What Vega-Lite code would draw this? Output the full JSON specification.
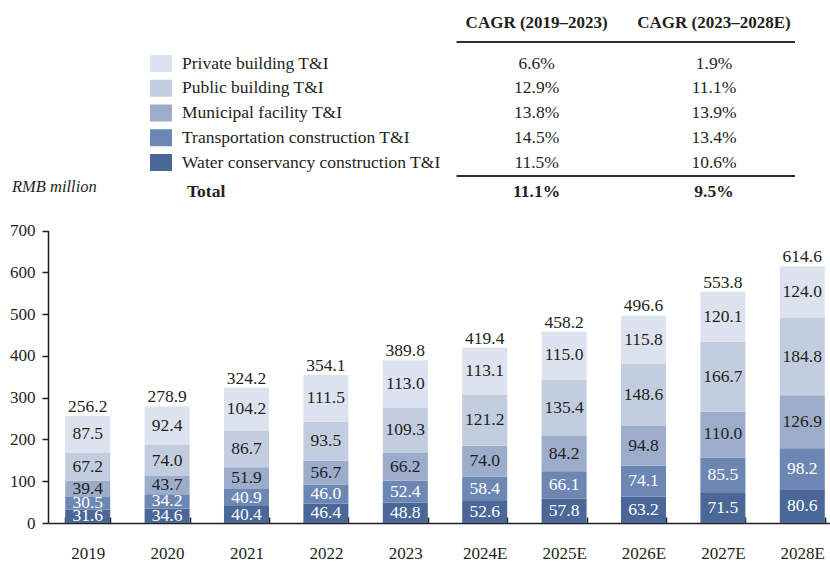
{
  "$schema": "https://vega.github.io/schema/vega-lite/v6.json",
  "width": 830,
  "height": 564,
  "padding": 0,
  "autosize": {"type": "none"},
  "background": "white",
  "config": {"view": {"stroke": null}, "font": "Liberation Serif", "text": {"font": "Liberation Serif", "fontSize": 17, "color": "#231f20"}},
  "datasets": {
    "seg": [
      {"year": "2019", "series": "Water conservancy construction T&I", "value": 31.6},
      {"year": "2020", "series": "Water conservancy construction T&I", "value": 34.6},
      {"year": "2021", "series": "Water conservancy construction T&I", "value": 40.4},
      {"year": "2022", "series": "Water conservancy construction T&I", "value": 46.4},
      {"year": "2023", "series": "Water conservancy construction T&I", "value": 48.8},
      {"year": "2024E", "series": "Water conservancy construction T&I", "value": 52.6},
      {"year": "2025E", "series": "Water conservancy construction T&I", "value": 57.8},
      {"year": "2026E", "series": "Water conservancy construction T&I", "value": 63.2},
      {"year": "2027E", "series": "Water conservancy construction T&I", "value": 71.5},
      {"year": "2028E", "series": "Water conservancy construction T&I", "value": 80.6},
      {"year": "2019", "series": "Transportation construction T&I", "value": 30.5},
      {"year": "2020", "series": "Transportation construction T&I", "value": 34.2},
      {"year": "2021", "series": "Transportation construction T&I", "value": 40.9},
      {"year": "2022", "series": "Transportation construction T&I", "value": 46.0},
      {"year": "2023", "series": "Transportation construction T&I", "value": 52.4},
      {"year": "2024E", "series": "Transportation construction T&I", "value": 58.4},
      {"year": "2025E", "series": "Transportation construction T&I", "value": 66.1},
      {"year": "2026E", "series": "Transportation construction T&I", "value": 74.1},
      {"year": "2027E", "series": "Transportation construction T&I", "value": 85.5},
      {"year": "2028E", "series": "Transportation construction T&I", "value": 98.2},
      {"year": "2019", "series": "Municipal facility T&I", "value": 39.4},
      {"year": "2020", "series": "Municipal facility T&I", "value": 43.7},
      {"year": "2021", "series": "Municipal facility T&I", "value": 51.9},
      {"year": "2022", "series": "Municipal facility T&I", "value": 56.7},
      {"year": "2023", "series": "Municipal facility T&I", "value": 66.2},
      {"year": "2024E", "series": "Municipal facility T&I", "value": 74.0},
      {"year": "2025E", "series": "Municipal facility T&I", "value": 84.2},
      {"year": "2026E", "series": "Municipal facility T&I", "value": 94.8},
      {"year": "2027E", "series": "Municipal facility T&I", "value": 110.0},
      {"year": "2028E", "series": "Municipal facility T&I", "value": 126.9},
      {"year": "2019", "series": "Public building T&I", "value": 67.2},
      {"year": "2020", "series": "Public building T&I", "value": 74.0},
      {"year": "2021", "series": "Public building T&I", "value": 86.7},
      {"year": "2022", "series": "Public building T&I", "value": 93.5},
      {"year": "2023", "series": "Public building T&I", "value": 109.3},
      {"year": "2024E", "series": "Public building T&I", "value": 121.2},
      {"year": "2025E", "series": "Public building T&I", "value": 135.4},
      {"year": "2026E", "series": "Public building T&I", "value": 148.6},
      {"year": "2027E", "series": "Public building T&I", "value": 166.7},
      {"year": "2028E", "series": "Public building T&I", "value": 184.8},
      {"year": "2019", "series": "Private building T&I", "value": 87.5},
      {"year": "2020", "series": "Private building T&I", "value": 92.4},
      {"year": "2021", "series": "Private building T&I", "value": 104.2},
      {"year": "2022", "series": "Private building T&I", "value": 111.5},
      {"year": "2023", "series": "Private building T&I", "value": 113.0},
      {"year": "2024E", "series": "Private building T&I", "value": 113.1},
      {"year": "2025E", "series": "Private building T&I", "value": 115.0},
      {"year": "2026E", "series": "Private building T&I", "value": 115.8},
      {"year": "2027E", "series": "Private building T&I", "value": 120.1},
      {"year": "2028E", "series": "Private building T&I", "value": 124.0}
    ],
    "seriesorder": [
      {"series": "Water conservancy construction T&I", "stackrank": 1},
      {"series": "Transportation construction T&I", "stackrank": 2},
      {"series": "Municipal facility T&I", "stackrank": 3},
      {"series": "Public building T&I", "stackrank": 4},
      {"series": "Private building T&I", "stackrank": 5}
    ],
    "totals": [
      {"year": "2019", "total": 256.2},
      {"year": "2020", "total": 278.9},
      {"year": "2021", "total": 324.2},
      {"year": "2022", "total": 354.1},
      {"year": "2023", "total": 389.8},
      {"year": "2024E", "total": 419.4},
      {"year": "2025E", "total": 458.2},
      {"year": "2026E", "total": 496.6},
      {"year": "2027E", "total": 553.8},
      {"year": "2028E", "total": 614.6}
    ],
    "table": [
      {"series": "Private building T&I", "c1": "6.6%", "c2": "1.9%"},
      {"series": "Public building T&I", "c1": "12.9%", "c2": "11.1%"},
      {"series": "Municipal facility T&I", "c1": "13.8%", "c2": "13.9%"},
      {"series": "Transportation construction T&I", "c1": "14.5%", "c2": "13.4%"},
      {"series": "Water conservancy construction T&I", "c1": "11.5%", "c2": "10.6%"}
    ],
    "header": [
      {"col": "c1", "text": "CAGR (2019–2023)"},
      {"col": "c2", "text": "CAGR (2023–2028E)"}
    ],
    "totalrow": [
      {"label": "Total", "c1": "11.1%", "c2": "9.5%"}
    ],
    "unit": [
      {"text": "RMB million"}
    ]
  },
  "layer": [
    {
      "layer": [
        {
          "data": {"name": "seg"},
          "transform": [{"lookup": "series", "from": {"data": {"name": "seriesorder"}, "key": "series", "fields": ["stackrank"]}}],
          "mark": {"type": "bar"},
          "encoding": {
            "x": {"field": "year", "type": "nominal",
              "scale": {"domain": ["2019","2020","2021","2022","2023","2024E","2025E","2026E","2027E","2028E"], "range": [48, 842], "paddingInner": 0.433, "paddingOuter": 0.2165},
              "axis": {"title": null, "labelAngle": 0, "labelFont": "Liberation Serif", "labelFontSize": 17, "labelColor": "#231f20", "domainColor": "#231f20", "domainWidth": 1.5, "tickColor": "#231f20", "tickWidth": 1.5, "tickBand": "extent", "tickSize": -6, "labelPadding": 28, "offset": -41, "grid": false}},
            "y": {"field": "value", "type": "quantitative", "stack": "zero",
              "scale": {"domain": [0, 700], "range": [523, 230.5], "nice": false},
              "axis": {"title": null, "values": [0,100,200,300,400,500,600,700], "labelFont": "Liberation Serif", "labelFontSize": 17, "labelColor": "#231f20", "domainColor": "#231f20", "domainWidth": 1.5, "tickColor": "#231f20", "tickWidth": 1.5, "tickSize": 6, "labelPadding": 7, "offset": -48, "grid": false}},
            "order": {"field": "stackrank", "type": "quantitative", "sort": "ascending"},
            "color": {"field": "series", "type": "nominal",
              "scale": {"domain": ["Water conservancy construction T&I","Transportation construction T&I","Municipal facility T&I","Public building T&I","Private building T&I"], "range": ["#4a6797","#6d87b4","#9cadcb","#c3cde0","#dde3ee"]},
              "legend": null}
          }
        },
        {
          "data": {"name": "seg"},
          "transform": [{"lookup": "series", "from": {"data": {"name": "seriesorder"}, "key": "series", "fields": ["stackrank"]}}],
          "mark": {"type": "text", "fontSize": 17.5, "baseline": "middle"},
          "encoding": {
            "x": {"field": "year", "type": "nominal"},
            "y": {"field": "value", "type": "quantitative", "stack": "zero", "bandPosition": 0.5},
            "order": {"field": "stackrank", "type": "quantitative", "sort": "ascending"},
            "text": {"field": "value", "type": "quantitative", "format": ".1f"},
            "color": {"field": "series", "type": "nominal",
              "scale": {"domain": ["Water conservancy construction T&I","Transportation construction T&I","Municipal facility T&I","Public building T&I","Private building T&I"], "range": ["#ffffff","#ffffff","#231f20","#231f20","#231f20"]},
              "legend": null}
          }
        },
        {
          "data": {"name": "totals"},
          "mark": {"type": "text", "fontSize": 17.5, "baseline": "alphabetic", "dy": -4, "color": "#231f20"},
          "encoding": {
            "x": {"field": "year", "type": "nominal"},
            "y": {"field": "total", "type": "quantitative"},
            "text": {"field": "total", "type": "quantitative", "format": ".1f"}
          }
        }
      ],
      "resolve": {"scale": {"color": "independent"}}
    },
    {
      "layer": [
        {
          "data": {"name": "table"},
          "mark": {"type": "point", "shape": "M-1,-0.773L1,-0.773L1,0.773L-1,0.773Z", "filled": true, "size": 484, "opacity": 1, "xOffset": -21},
          "encoding": {
            "x": {"datum": "label", "type": "nominal", "scale": {"type": "point", "domain": ["label","gap","c1","c2"], "range": [182, 714], "padding": 0}, "axis": null},
            "y": {"field": "series", "type": "nominal", "scale": {"type": "point", "domain": ["Private building T&I","Public building T&I","Municipal facility T&I","Transportation construction T&I","Water conservancy construction T&I"], "range": [63.5, 162.5], "padding": 0}, "axis": null},
            "color": {"field": "series", "type": "nominal",
              "scale": {"domain": ["Water conservancy construction T&I","Transportation construction T&I","Municipal facility T&I","Public building T&I","Private building T&I"], "range": ["#4a6797","#6d87b4","#9cadcb","#c3cde0","#dde3ee"]},
              "legend": null}
          }
        },
        {
          "data": {"name": "table"},
          "mark": {"type": "text", "align": "left", "baseline": "middle", "fontSize": 17.5},
          "encoding": {
            "x": {"datum": "label", "type": "nominal"},
            "y": {"field": "series", "type": "nominal"},
            "text": {"field": "series"}
          }
        },
        {
          "data": {"name": "table"},
          "transform": [{"fold": ["c1", "c2"], "as": ["key", "val"]}],
          "mark": {"type": "text", "align": "center", "baseline": "middle", "fontSize": 17.5},
          "encoding": {
            "x": {"field": "key", "type": "nominal"},
            "y": {"field": "series", "type": "nominal"},
            "text": {"field": "val"}
          }
        },
        {
          "data": {"name": "header"},
          "mark": {"type": "text", "align": "center", "baseline": "middle", "fontSize": 17, "fontWeight": "bold", "dy": -41},
          "encoding": {
            "x": {"field": "col", "type": "nominal"},
            "y": {"datum": "Private building T&I", "type": "nominal"},
            "text": {"field": "text"}
          }
        },
        {
          "data": {"name": "header"},
          "mark": {"type": "rule", "color": "#231f20", "strokeWidth": 1.6, "xOffset": -80, "x2Offset": 81, "yOffset": -21.5},
          "encoding": {
            "x": {"datum": "c1", "type": "nominal"},
            "x2": {"datum": "c2"},
            "y": {"datum": "Private building T&I", "type": "nominal"}
          }
        },
        {
          "data": {"name": "header"},
          "mark": {"type": "rule", "color": "#231f20", "strokeWidth": 1.6, "xOffset": -80, "x2Offset": 81, "yOffset": 13.5},
          "encoding": {
            "x": {"datum": "c1", "type": "nominal"},
            "x2": {"datum": "c2"},
            "y": {"datum": "Water conservancy construction T&I", "type": "nominal"}
          }
        },
        {
          "data": {"name": "totalrow"},
          "mark": {"type": "text", "align": "left", "baseline": "middle", "fontSize": 17.5, "fontWeight": "bold", "dx": 5, "dy": 29},
          "encoding": {
            "x": {"datum": "label", "type": "nominal"},
            "y": {"datum": "Water conservancy construction T&I", "type": "nominal"},
            "text": {"field": "label"}
          }
        },
        {
          "data": {"name": "totalrow"},
          "transform": [{"fold": ["c1", "c2"], "as": ["key", "val"]}],
          "mark": {"type": "text", "align": "center", "baseline": "middle", "fontSize": 17.5, "fontWeight": "bold", "dy": 29},
          "encoding": {
            "x": {"field": "key", "type": "nominal"},
            "y": {"datum": "Water conservancy construction T&I", "type": "nominal"},
            "text": {"field": "val"}
          }
        },
        {
          "data": {"name": "unit"},
          "mark": {"type": "text", "align": "left", "baseline": "middle", "fontSize": 16.5, "fontStyle": "italic", "dx": -170, "dy": 24},
          "encoding": {
            "x": {"datum": "label", "type": "nominal"},
            "y": {"datum": "Water conservancy construction T&I", "type": "nominal"},
            "text": {"field": "text"}
          }
        }
      ]
    }
  ],
  "resolve": {"scale": {"x": "independent", "y": "independent", "color": "independent"}, "axis": {"x": "independent", "y": "independent"}}
}
